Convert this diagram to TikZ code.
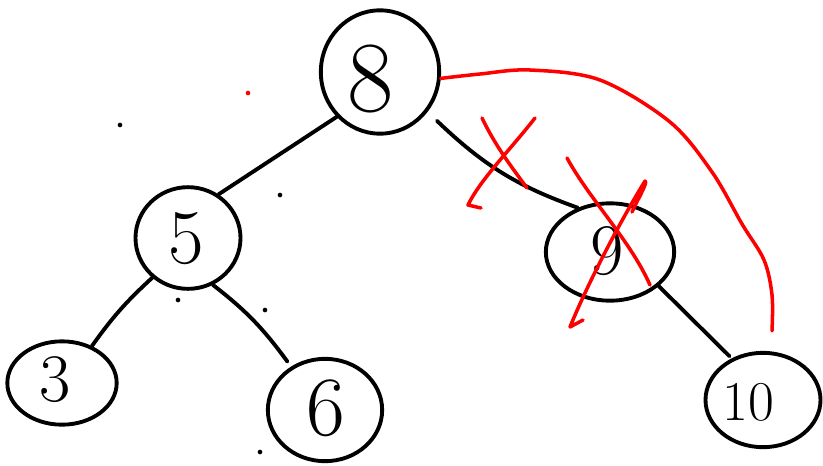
\documentclass[tikz,border=0pt]{standalone}
\usepackage{fontspec}
\usetikzlibrary{shapes.geometric,calc}
\begin{document}
\begin{tikzpicture}[x=0.03cm,y=-0.03cm,
  tnode/.style={ellipse,draw=black,line width=3.3pt,inner sep=0pt},
  digit/.style={inner sep=0pt,font=\fontsize{#1}{#1}\selectfont},
  edge/.style={draw=black,line width=3.3pt,line cap=round},
  redline/.style={draw=red,line width=3pt,line cap=round,line join=round},
  dot/.style={circle,fill=#1,inner sep=0pt,minimum size=4pt}]
\useasboundingbox (0,0) rectangle (823,465);
% tree nodes
\node[tnode,minimum width=3.55cm,minimum height=3.7cm] (n8) at (380,72) {};
\node[tnode,minimum width=3.15cm,minimum height=3.05cm] (n5) at (188,238) {};
\node[tnode,minimum width=3.28cm,minimum height=2.5cm] (n3) at (62,383) {};
\node[tnode,minimum width=3.43cm,minimum height=3.07cm] (n6) at (325,410) {};
\node[tnode,minimum width=3.85cm,minimum height=2.92cm] (n9) at (610,252) {};
\node[tnode,minimum width=3.45cm,minimum height=2.83cm] (n10) at (763,400) {};
% labels
\node[digit=86pt] (t8) at (371,79) {8};
\node[digit=66pt] (t5) at (186,239) {5};
\node[digit=58pt] (t3) at (55,380) {3};
\node[digit=72pt] (t6) at (326,408) {6};
\node[digit=62pt] (t9) at (607,251) {9};
\node[digit=48pt] (t10) at (748,402) {10};
% edges
\draw[edge] (n8.226) -- (n5.55);
\draw[edge] ($(n8.-41)+(10,8)$) to[bend right=12] (n9.126);
\draw[edge] (n5.228) to[bend right=6] (n3.51);
\draw[edge] (n5.298) to[bend left=8] ($(n6.130)+(-2,-6)$);
\draw[edge] (n9.325) -- ($(n10.127)+(-2,-2)$);
% red curve from 8 toward 10
\draw[redline] plot[smooth,tension=0.55] coordinates {(n8.-6) (480,74) (530,70) (600,80) (670,122) (712,172) (742,224) (764,260) (772,295) ($(n10.north)+(9,-20)$)};
% red X on edge 8-9
\draw[redline] (482,118) .. controls (495,145) and (510,165) .. (527,188);
\draw[redline] (535,118) .. controls (510,150) and (480,180) .. (468,205) -- (481,208);
% red X on node 9
\draw[redline] (567,158) .. controls (590,200) and (630,240) .. (650,285);
\draw[redline] (632,212) .. controls (640,195) and (648,182) .. (645,181) .. controls (615,230) and (585,290) .. (570,327) -- (583,320);
% stray dots
\node[dot=black] (d1) at (120,125) {};
\node[dot=red] (d2) at (248,93) {};
\node[dot=black] (d3) at (280,195) {};
\node[dot=black] (d4) at (178,300) {};
\node[dot=black] (d5) at (265,310) {};
\node[dot=black] (d6) at (260,452) {};
\end{tikzpicture}
\end{document}
